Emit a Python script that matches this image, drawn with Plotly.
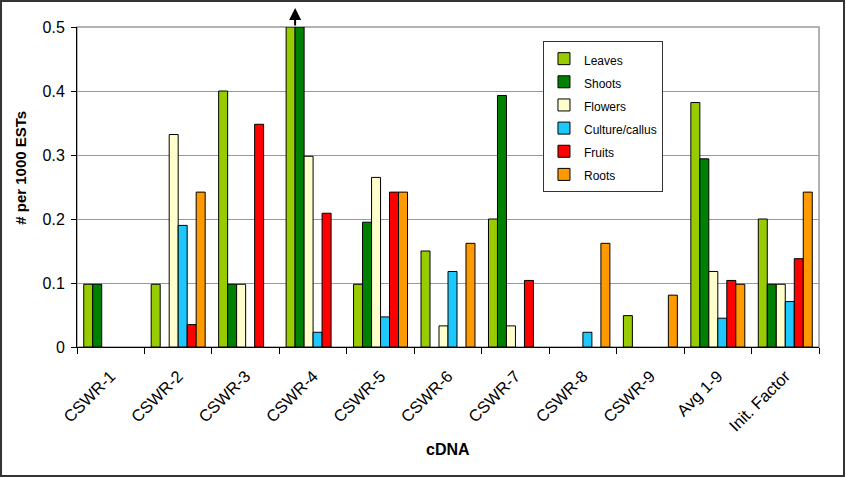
import plotly.graph_objects as go

categories = ["CSWR-1", "CSWR-2", "CSWR-3", "CSWR-4", "CSWR-5", "CSWR-6",
              "CSWR-7", "CSWR-8", "CSWR-9", "Avg 1-9", "Init. Factor"]

N = None
leaves  = [0.098, 0.098, 0.400, 0.500, 0.098, 0.150, 0.200, N,     0.049, 0.382, 0.200]
shoots  = [0.098, N,     0.098, 0.500, 0.195, N,     0.393, N,     N,     0.294, 0.098]
flowers = [N,     0.332, 0.098, 0.298, 0.265, 0.033, 0.033, N,     N,     0.118, 0.098]
culture = [N,     0.190, N,     0.023, 0.047, 0.118, N,     0.023, N,     0.045, 0.071]
fruits  = [N,     0.035, 0.348, 0.209, 0.242, N,     0.104, N,     N,     0.104, 0.138]
roots   = [N,     0.242, N,     N,     0.242, 0.162, N,     0.162, 0.081, 0.098, 0.242]

series = [
    ("Leaves", leaves, "#99CC00"),
    ("Shoots", shoots, "#008000"),
    ("Flowers", flowers, "#FFFFCC"),
    ("Culture/callus", culture, "#1EC8FF"),
    ("Fruits", fruits, "#FF0000"),
    ("Roots", roots, "#FF9900"),
]

FONT = "Arial, Liberation Sans, sans-serif"

fig = go.Figure()
for name, vals, color in series:
    fig.add_trace(go.Bar(
        x=categories, y=vals,
        name="<span style='font-size:12px'>" + name + "</span>",
        marker=dict(color=color, line=dict(color="black", width=1)),
    ))

fig.update_layout(
    width=846, height=478,
    margin=dict(l=77, r=27, t=27, b=131),
    paper_bgcolor="white", plot_bgcolor="white",
    font=dict(family=FONT, color="black", size=13),
    barmode="group", bargap=0.2, bargroupgap=0,
    showlegend=True,
    legend=dict(
        x=0.628, y=0.956, xanchor="left", yanchor="top",
        bgcolor="white", bordercolor="#333333", borderwidth=1,
        font=dict(size=15.5, family=FONT),
        itemwidth=30, tracegroupgap=0,
    ),
    xaxis=dict(
        type="category", tickangle=-45, tickson="boundaries",
        ticks="outside", ticklen=6, tickcolor="black",
        showline=True, linecolor="black", linewidth=1,
        tickfont=dict(size=16.5, family=FONT), ticklabelstandoff=12,
        automargin=False,
    ),
    yaxis=dict(
        range=[0, 0.5], dtick=0.1, ticks="outside", ticklen=5, tickcolor="black",
        showline=True, linecolor="black", linewidth=1,
        showgrid=True, gridcolor="#999999", gridwidth=1, zeroline=False,
        tickfont=dict(size=16, family=FONT), ticklabelstandoff=3,
        automargin=False,
    ),
)

# axis titles
fig.add_annotation(text="<b>cDNA</b>", xref="paper", yref="paper", x=0.5, y=-0.319,
                   showarrow=False, font=dict(size=16, family=FONT),
                   xanchor="center", yanchor="middle")
fig.add_annotation(text="<b># per 1000 ESTs</b>", xref="paper", yref="paper",
                   x=-0.0755, y=0.56, textangle=-90, showarrow=False,
                   font=dict(size=15, family=FONT), xanchor="center", yanchor="middle")

# plot area border (gray)
fig.add_shape(type="rect", xref="paper", yref="paper", x0=0, y0=0, x1=1, y1=1,
              line=dict(color="#999999", width=1.5), layer="below")
# outer chart border
fig.add_shape(type="rect", xref="paper", yref="paper",
              x0=-0.1024, x1=1.0337, y0=-0.403, y1=1.081,
              line=dict(color="#333333", width=2), layer="above")

# off-scale arrow above CSWR-4 leaves/shoots bars
fig.add_annotation(x=3 - 0.2667, y=1.059, xref="x", yref="paper", text="",
                   showarrow=True, ax=0, ay=19, arrowhead=2, arrowsize=1.2,
                   arrowwidth=2, arrowcolor="black")

fig.write_html("out.html")
